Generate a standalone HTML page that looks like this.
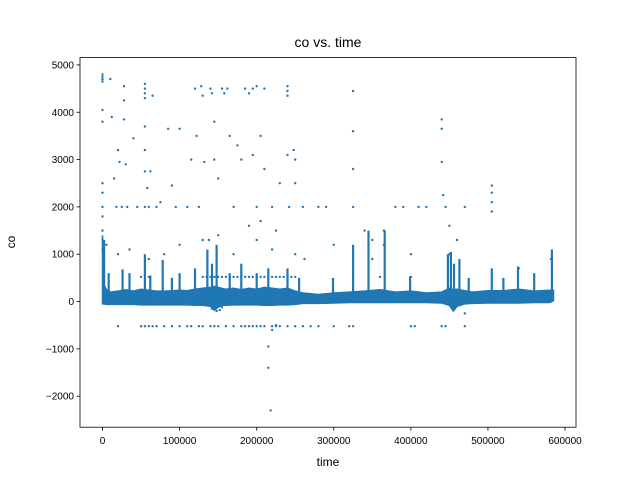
<!DOCTYPE html>
<html><head><meta charset="utf-8"><style>
html,body{margin:0;padding:0;background:#fff;}
svg{display:block;font-family:"Liberation Sans","DejaVu Sans",sans-serif;}
</style></head><body>
<svg id="chart" width="640" height="480" viewBox="0 0 640 480" xmlns="http://www.w3.org/2000/svg">
<rect x="0" y="0" width="640" height="480" fill="#fff"/>
<text x="328" y="47" text-anchor="middle" font-size="14">co vs. time</text>
<text x="328" y="466" text-anchor="middle" font-size="12">time</text>
<text transform="translate(15,242) rotate(-90)" text-anchor="middle" font-size="12">co</text>
<g id="marks"></g>
<g id="axes"></g>
</svg>
<script>
const xTicks=[0,100000,200000,300000,400000,500000,600000];
const yTicks=[-2000,-1000,0,1000,2000,3000,4000,5000];
// dense band envelope (x in thousands)
const bandX=[0,2,5,10,20,30,40,50,60,70,80,90,100,110,120,130,140,145,150,155,160,170,180,190,200,210,220,230,240,250,260,280,300,320,340,360,380,400,420,440,450,455,460,470,480,500,520,540,560,580,585];
const bandHi=[1400,350,250,200,220,250,220,260,240,220,220,230,240,230,260,280,300,320,300,280,260,280,250,280,260,300,280,260,280,220,180,150,180,200,220,250,200,220,180,200,280,250,260,230,200,230,230,260,220,240,240];
const bandLo=[-50,-50,-60,-60,-60,-60,-60,-70,-70,-70,-70,-70,-70,-70,-80,-80,-100,-180,-120,-80,-80,-70,-70,-70,-70,-80,-80,-70,-70,-60,-40,-40,-30,-20,-20,-20,-20,-20,-20,-30,-80,-200,-100,-50,-40,-30,-30,-30,-20,-20,20];
// vertical spikes above band (x in thousands, top value)
const spikeX=[2,8,26,35,55,62,78,90,100,120,136,142,148,165,180,200,215,240,255,299,325,345,366,399,448,452,456,463,475,505,520,539,560,583];
const spikeTop=[1300,600,680,600,1000,550,880,500,600,700,1100,800,1200,600,800,600,700,700,500,500,1200,1500,1500,530,1000,1050,800,900,500,700,500,740,600,1100];
// scattered outliers
const ptX=[0,0,0,0,0,0,0,0,0,0,0,0,0,2,10,12,15,18,20,22,25,28,28,28,30,32,40,45,55,55,55,55,55,55,55,55,58,60,62,65,70,75,85,90,95,100,110,115,120,122,125,128,130,132,140,142,145,145,150,155,158,162,165,170,175,180,185,190,195,195,200,200,205,210,210,215,215,218,220,225,230,240,240,240,240,242,248,250,250,260,280,290,300,325,325,325,325,340,350,365,365,380,390,400,410,420,440,440,440,442,445,450,460,470,505,505,505,505,5,20,35,60,80,100,130,150,170,200,220,250,350,450,540,582,142,148,152,155,220,225,190,205,138,262,470];
const ptY=[4800,4750,4700,4650,4050,3800,2500,2300,2000,1800,1500,1300,1100,900,4700,3900,2600,2000,3200,2950,2000,4550,4250,3850,2900,2000,3450,2000,4600,4500,4400,4300,3700,3200,2750,2000,2400,2000,2750,4350,2000,2100,3650,2450,2000,3650,2000,3000,4500,3500,2000,4550,4350,2950,4500,4400,3800,3000,2600,4500,4400,4500,3500,2000,3300,3000,4500,4400,4500,3100,4550,2000,3500,4500,2800,-950,-1400,-2300,2000,1500,2500,4550,4450,4350,3100,2000,3200,3000,2500,2000,2000,2000,1200,4450,3600,2800,2000,1500,1300,1500,1200,2000,2000,1000,2000,2000,3850,3650,2950,2250,2000,1600,1300,2000,2450,2300,2100,1900,1200,1000,1100,900,1000,1200,1300,1400,1000,1300,1100,1000,900,1000,700,900,-150,-200,-180,-120,-600,-500,1600,1700,1300,900,-250];
// -500 level points
const negX=[20,50,55,60,65,70,80,90,100,110,115,125,130,140,145,150,160,170,180,185,190,195,200,205,210,220,225,230,240,250,260,270,280,300,320,325,400,405,440,445,470];
const negY=[-520,-520,-520,-520,-520,-520,-520,-520,-520,-520,-520,-520,-520,-520,-520,-520,-520,-520,-520,-520,-520,-520,-520,-520,-520,-520,-520,-520,-520,-520,-520,-520,-520,-520,-520,-520,-520,-520,-520,-520,-520];
// ~500 level line
const midX=[130,135,140,145,150,155,160,165,170,175,180,185,190,195,200,205,210,215,220,225,230,235,240,245,250,50,60,100,120,325,360,400];
const midY=[520,520,520,520,520,520,520,520,520,520,520,520,520,520,520,520,520,520,520,520,520,520,520,520,520,520,520,520,520,520,520,520];

const L=80,R=576,T=57.6,B=427.2,xMin=-29250,xMax=614250,yMin=-2655,yMax=5155;
const sx=v=>L+(v-xMin)/(xMax-xMin)*(R-L);
const sy=v=>B-(v-yMin)/(yMax-yMin)*(B-T);
const NS="http://www.w3.org/2000/svg";
const marks=document.getElementById('marks'), axes=document.getElementById('axes');
const C="#1f77b4";
let pts=[];
bandX.forEach((x,i)=>pts.push(sx(x*1000).toFixed(1)+','+sy(bandHi[i]).toFixed(1)));
for(let i=bandX.length-1;i>=0;i--)pts.push(sx(bandX[i]*1000).toFixed(1)+','+sy(bandLo[i]).toFixed(1));
const band=document.createElementNS(NS,'polygon');
band.setAttribute('points',pts.join(' '));
band.setAttribute('fill',C);band.setAttribute('stroke',C);band.setAttribute('stroke-width','1.5');


marks.appendChild(band);
spikeX.forEach((x,i)=>{
  const l=document.createElementNS(NS,'line');
  l.setAttribute('x1',sx(x*1000).toFixed(1));l.setAttribute('x2',sx(x*1000).toFixed(1));
  l.setAttribute('y1',sy(0).toFixed(1));l.setAttribute('y2',sy(spikeTop[i]).toFixed(1));
  l.setAttribute('stroke',C);l.setAttribute('stroke-width','2.2');
  
  
  marks.appendChild(l);
});
function dot(x,y){
  const c=document.createElementNS(NS,'circle');
  c.setAttribute('cx',sx(x*1000).toFixed(1));c.setAttribute('cy',sy(y).toFixed(1));
  c.setAttribute('r','1.2');c.setAttribute('fill',C);
  
  
  marks.appendChild(c);
}
ptX.forEach((x,i)=>dot(x,ptY[i]));
negX.forEach((x,i)=>dot(x,negY[i]));
midX.forEach((x,i)=>dot(x,midY[i]));
const frame=document.createElementNS(NS,'rect');
frame.setAttribute('x',L);frame.setAttribute('y',T);frame.setAttribute('width',R-L);frame.setAttribute('height',B-T);
frame.setAttribute('fill','none');frame.setAttribute('stroke','#000');frame.setAttribute('stroke-width','0.8');


axes.appendChild(frame);
xTicks.forEach(v=>{
  const x=sx(v);
  const t=document.createElementNS(NS,'line');
  t.setAttribute('x1',x);t.setAttribute('x2',x);t.setAttribute('y1',B);t.setAttribute('y2',B+3.5);t.setAttribute('stroke','#000');t.setAttribute('stroke-width','0.8');
  
  
  axes.appendChild(t);
  const s=document.createElementNS(NS,'text');
  s.setAttribute('x',x);s.setAttribute('y',B+17);s.setAttribute('text-anchor','middle');s.setAttribute('font-size','10');
  s.textContent=String(v);
  
  
  axes.appendChild(s);
});
yTicks.forEach(v=>{
  const y=sy(v);
  const t=document.createElementNS(NS,'line');
  t.setAttribute('x1',L-3.5);t.setAttribute('x2',L);t.setAttribute('y1',y);t.setAttribute('y2',y);t.setAttribute('stroke','#000');t.setAttribute('stroke-width','0.8');
  
  
  axes.appendChild(t);
  const s=document.createElementNS(NS,'text');
  s.setAttribute('x',L-6);s.setAttribute('y',y+3.5);s.setAttribute('text-anchor','end');s.setAttribute('font-size','10');
  s.textContent=v<0?'\u2212'+Math.abs(v):String(v);
  
  
  axes.appendChild(s);
});
</script>
</body></html>
